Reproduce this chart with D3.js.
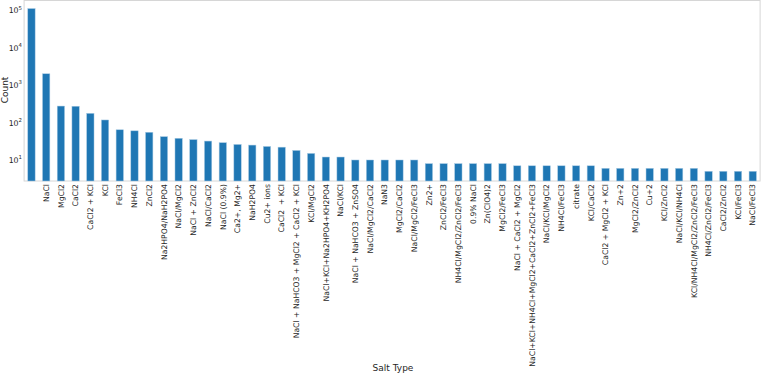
<!DOCTYPE html>
<html lang="en">
<head>
    <meta charset="UTF-8">
    <title>Salt Type Counts</title>
    <script src="https://d3js.org/d3.v7.min.js"></script>
    <style>
        body { margin: 0; background: #fff; }
        svg { display: block; font-family: "DejaVu Sans", sans-serif; }
        .xlab { white-space: pre; }
    </style>
</head>
<body>
    <svg id="chart" width="761" height="374"></svg>
    <script>
        // Data
        const saltTypes = [
            "", "NaCl", "MgCl2", "CaCl2", "CaCl2 + KCl", "KCl", "FeCl3", "NH4Cl", "ZnCl2",
            "Na2HPO4/NaH2PO4", "NaCl/MgCl2", "NaCl + ZnCl2", "NaCl/CaCl2", "NaCl (0.9%)",
            "Ca2+, Mg2+", "NaH2PO4", "Cu2+ ions", "CaCl2  + KCl",
            "NaCl + NaHCO3 + MgCl2 + CaCl2 + KCl", "KCl/MgCl2", "NaCl+KCl+Na2HPO4+KH2PO4",
            "NaCl/KCl", "NaCl + NaHCO3 + ZnSO4", "NaCl/MgCl2/CaCl2", "NaN3", "MgCl2/CaCl2",
            "NaCl/MgCl2/FeCl3", "Zn2+", "ZnCl2/FeCl3", "NH4Cl/MgCl2/ZnCl2/FeCl3", "0.9% NaCl",
            "Zn(ClO4)2", "MgCl2/FeCl3", "NaCl + CaCl2 + MgCl2",
            "NaCl+KCl+NH4Cl+MgCl2+CaCl2+ZnCl2+FeCl3", "NaCl/KCl/MgCl2", "NH4Cl/FeCl3",
            "citrate", "KCl/CaCl2", "CaCl2 + MgCl2 + KCl", "Zn+2", "MgCl2/ZnCl2", "Cu+2",
            "KCl/ZnCl2", "NaCl/KCl/NH4Cl", "KCl/NH4Cl/MgCl2/ZnCl2/FeCl3", "NH4Cl/ZnCl2/FeCl3",
            "CaCl2/ZnCl2", "KCl/FeCl3", "NaCl/FeCl3"
        ];
        const counts = [
            110000, 2000, 275, 272, 176, 117, 64, 60, 55, 42, 38, 35, 32, 29, 26, 25, 23, 22,
            18, 15, 12, 12, 10, 10, 10, 10, 10, 8, 8, 8, 8, 8, 8, 7, 7, 7, 7, 7, 7,
            6, 6, 6, 6, 6, 6, 6, 5, 5, 5, 5
        ];
        const yTicks = [10, 100, 1000, 10000, 100000];

        const svg = d3.select('#chart');
        const plotLeft = 24.1, plotRight = 760.1, plotTop = 1, plotBottom = 181;
        const textColor = '#262626';

        const x = d3.scaleBand()
            .domain(saltTypes)
            .range([plotLeft, plotRight])
            .paddingInner(0.5)
            .paddingOuter(0.25);

        const y = d3.scaleLog()
            .domain([2.75, 175000])
            .range([plotBottom, plotTop]);

        // frame
        svg.append('rect')
            .attr('x', plotLeft)
            .attr('y', plotTop - 0.5)
            .attr('width', plotRight - plotLeft)
            .attr('height', plotBottom - plotTop + 0.5)
            .attr('fill', 'none')
            .attr('stroke', '#d6d6d6')
            .attr('stroke-width', 1);

        // bars
        svg.append('g')
            .selectAll('rect')
            .data(counts)
            .enter()
            .append('rect')
            .attr('x', (d, i) => x(saltTypes[i]))
            .attr('y', d => y(d))
            .attr('width', x.bandwidth())
            .attr('height', d => plotBottom - y(d))
            .attr('fill', '#1f77b4')
            .attr('stroke', '#a9cbe4')
            .attr('stroke-width', 0.5);

        // y axis labels (10^n)
        const yAxis = svg.append('g').attr('fill', textColor);
        yTicks.forEach(t => {
            const txt = yAxis.append('text')
                .attr('x', 22)
                .attr('y', y(t) + 3)
                .attr('text-anchor', 'end')
                .attr('font-size', 7.8);
            txt.append('tspan').text('10');
            txt.append('tspan')
                .attr('font-size', 5.4)
                .attr('dy', -3.6)
                .text(Math.round(Math.log10(t)));
        });

        // x tick labels
        svg.append('g')
            .selectAll('text')
            .data(saltTypes)
            .enter()
            .append('text')
            .attr('class', 'xlab')
            .attr('transform', d => `translate(${x(d) + x.bandwidth() / 2},184) rotate(-90)`)
            .attr('text-anchor', 'end')
            .attr('dy', '0.35em')
            .attr('font-size', 7.7)
            .attr('fill', textColor)
            .text(d => d);

        // axis titles
        svg.append('text')
            .attr('transform', `translate(4.5,90) rotate(-90)`)
            .attr('text-anchor', 'middle')
            .attr('dy', '0.35em')
            .attr('font-size', 9)
            .attr('fill', textColor)
            .text('Count');

        svg.append('text')
            .attr('x', 393)
            .attr('y', 371)
            .attr('text-anchor', 'middle')
            .attr('font-size', 9)
            .attr('fill', textColor)
            .text('Salt Type');
    </script>
</body>
</html>
